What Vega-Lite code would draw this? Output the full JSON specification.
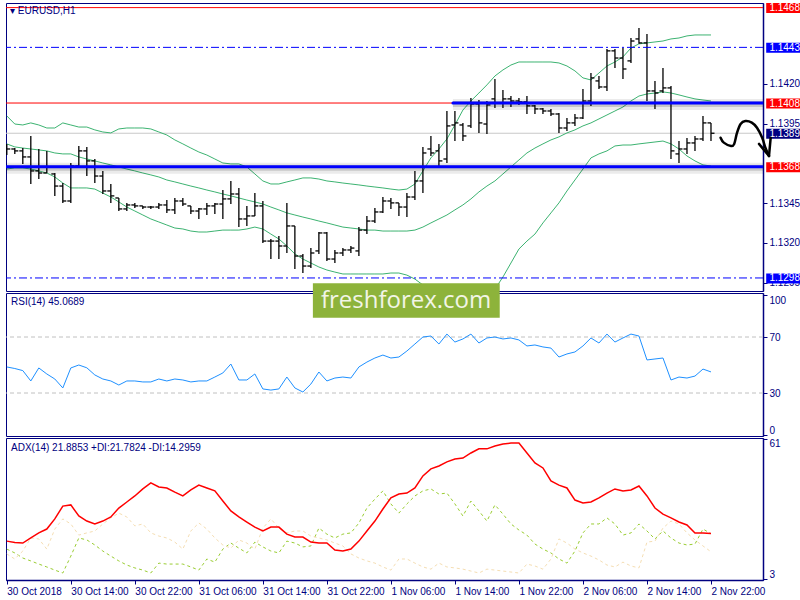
{
  "$schema": "https://vega.github.io/schema/vega-lite/v6.json",
  "background": "white",
  "padding": {"left": 3, "top": 2, "right": 0, "bottom": 0},
  "bounds": "flush",
  "spacing": 2,
  "config": {
    "view": {"stroke": "#000080", "strokeWidth": 1},
    "axis": {"grid": false, "domainColor": "#000080", "domainWidth": 1.5, "tickColor": "#000080", "labelColor": "#000080", "labelFont": "Liberation Sans", "labelFontSize": 10, "tickSize": 4, "labelPadding": 2, "title": null},
    "title": {"anchor": "start", "frame": "group", "orient": "top", "offset": -14, "baseline": "top", "font": "Liberation Sans", "fontSize": 10, "fontWeight": "normal", "color": "#000080"}
  },
  "datasets": {
    "h1": [
      {"i":0,"o":1.1381,"h":1.13823,"l":1.13753,"c":1.13791,"up":1.13999,"mid":1.13823,"lo":1.13665,"rsi":48.6,"adx":18.7,"pdi":15.4,"mdi":13.4},
      {"i":1,"o":1.13791,"h":1.13797,"l":1.1376,"c":1.13779,"up":1.13948,"mid":1.13804,"lo":1.13672,"rsi":47.5,"adx":18.1,"pdi":13.8,"mdi":11.3},
      {"i":2,"o":1.13779,"h":1.13797,"l":1.13697,"c":1.13741,"up":1.13942,"mid":1.13797,"lo":1.13672,"rsi":46,"adx":17.9,"pdi":11.7,"mdi":14.6},
      {"i":3,"o":1.13741,"h":1.13873,"l":1.13571,"c":1.13653,"up":1.13955,"mid":1.13791,"lo":1.13665,"rsi":38.6,"adx":20,"pdi":10.5,"mdi":20},
      {"i":4,"o":1.13653,"h":1.13791,"l":1.13602,"c":1.1364,"up":1.13942,"mid":1.13785,"lo":1.13653,"rsi":47.9,"adx":22.1,"pdi":9.2,"mdi":19.6},
      {"i":5,"o":1.1364,"h":1.13779,"l":1.1364,"c":1.13678,"up":1.13923,"mid":1.13779,"lo":1.1364,"rsi":43.6,"adx":23.7,"pdi":8,"mdi":15.4},
      {"i":6,"o":1.13634,"h":1.1364,"l":1.13496,"c":1.13558,"up":1.13923,"mid":1.13766,"lo":1.13615,"rsi":40,"adx":27.9,"pdi":6.7,"mdi":23.7},
      {"i":7,"o":1.13558,"h":1.13577,"l":1.13452,"c":1.13464,"up":1.13955,"mid":1.1376,"lo":1.13577,"rsi":33.6,"adx":33.2,"pdi":5.5,"mdi":27.9},
      {"i":8,"o":1.13464,"h":1.13703,"l":1.13452,"c":1.13684,"up":1.13942,"mid":1.1376,"lo":1.13546,"rsi":47.9,"adx":33.7,"pdi":12.5,"mdi":25.8},
      {"i":9,"o":1.13684,"h":1.1381,"l":1.13684,"c":1.13779,"up":1.13929,"mid":1.13741,"lo":1.13546,"rsi":50,"adx":29.1,"pdi":20,"mdi":21.2},
      {"i":10,"o":1.13779,"h":1.13804,"l":1.13621,"c":1.13716,"up":1.13929,"mid":1.13728,"lo":1.13546,"rsi":48,"adx":27,"pdi":19.2,"mdi":22.1},
      {"i":11,"o":1.13716,"h":1.13728,"l":1.13577,"c":1.13621,"up":1.13911,"mid":1.13716,"lo":1.13539,"rsi":42.9,"adx":25.8,"pdi":17.1,"mdi":22.9},
      {"i":12,"o":1.13621,"h":1.13653,"l":1.13508,"c":1.13527,"up":1.13898,"mid":1.13703,"lo":1.13514,"rsi":40,"adx":27,"pdi":14.6,"mdi":25.8},
      {"i":13,"o":1.13527,"h":1.13571,"l":1.13452,"c":1.13496,"up":1.13892,"mid":1.13691,"lo":1.13489,"rsi":38.6,"adx":28.7,"pdi":12.5,"mdi":28.3},
      {"i":14,"o":1.13483,"h":1.13483,"l":1.13401,"c":1.13414,"up":1.13917,"mid":1.13678,"lo":1.13458,"rsi":35.7,"adx":32.4,"pdi":10.5,"mdi":30.3},
      {"i":15,"o":1.13414,"h":1.13452,"l":1.13401,"c":1.13439,"up":1.13923,"mid":1.13665,"lo":1.13426,"rsi":38.6,"adx":34.9,"pdi":8.8,"mdi":28.7},
      {"i":16,"o":1.13439,"h":1.13452,"l":1.1342,"c":1.13433,"up":1.13923,"mid":1.13653,"lo":1.13401,"rsi":38.6,"adx":37.4,"pdi":7.6,"mdi":25},
      {"i":17,"o":1.13433,"h":1.13433,"l":1.13414,"c":1.13426,"up":1.13923,"mid":1.1364,"lo":1.13376,"rsi":37.9,"adx":40.3,"pdi":6.7,"mdi":25.8},
      {"i":18,"o":1.13426,"h":1.13433,"l":1.13414,"c":1.13426,"up":1.13917,"mid":1.13628,"lo":1.13351,"rsi":37.9,"adx":42.8,"pdi":5.5,"mdi":22.1},
      {"i":19,"o":1.13426,"h":1.13452,"l":1.13414,"c":1.13439,"up":1.13898,"mid":1.13615,"lo":1.13332,"rsi":40,"adx":41.1,"pdi":9.6,"mdi":20.8},
      {"i":20,"o":1.13439,"h":1.1347,"l":1.13389,"c":1.13408,"up":1.13879,"mid":1.13596,"lo":1.13313,"rsi":38.6,"adx":40.7,"pdi":9.2,"mdi":20},
      {"i":21,"o":1.13408,"h":1.13483,"l":1.13382,"c":1.13464,"up":1.13848,"mid":1.13584,"lo":1.13294,"rsi":40,"adx":39,"pdi":9.2,"mdi":18.3},
      {"i":22,"o":1.13464,"h":1.13483,"l":1.13433,"c":1.13445,"up":1.13823,"mid":1.13571,"lo":1.13288,"rsi":39.3,"adx":37.4,"pdi":9.2,"mdi":15.4},
      {"i":23,"o":1.13433,"h":1.13433,"l":1.13382,"c":1.13401,"up":1.13797,"mid":1.13558,"lo":1.13275,"rsi":37.9,"adx":39.9,"pdi":8,"mdi":22.9},
      {"i":24,"o":1.13401,"h":1.1342,"l":1.13351,"c":1.13414,"up":1.13772,"mid":1.13546,"lo":1.13269,"rsi":38.6,"adx":41.9,"pdi":6.7,"mdi":26.2},
      {"i":25,"o":1.13414,"h":1.13452,"l":1.13376,"c":1.13433,"up":1.13753,"mid":1.13533,"lo":1.13269,"rsi":38.6,"adx":40.7,"pdi":11.3,"mdi":23.7},
      {"i":26,"o":1.13433,"h":1.13452,"l":1.13382,"c":1.13445,"up":1.13728,"mid":1.13521,"lo":1.13275,"rsi":41.4,"adx":39.5,"pdi":10,"mdi":20},
      {"i":27,"o":1.13445,"h":1.13533,"l":1.13351,"c":1.13477,"up":1.13703,"mid":1.13508,"lo":1.13281,"rsi":44.3,"adx":35.3,"pdi":15.4,"mdi":17.1},
      {"i":28,"o":1.13477,"h":1.1359,"l":1.13445,"c":1.13508,"up":1.13697,"mid":1.13496,"lo":1.13281,"rsi":50.7,"adx":31.2,"pdi":17.9,"mdi":15.8},
      {"i":29,"o":1.13508,"h":1.13546,"l":1.133,"c":1.13351,"up":1.13697,"mid":1.13483,"lo":1.13281,"rsi":39.3,"adx":28.7,"pdi":15.8,"mdi":19.2},
      {"i":30,"o":1.13351,"h":1.13433,"l":1.13307,"c":1.1337,"up":1.13678,"mid":1.1347,"lo":1.13288,"rsi":39.3,"adx":26.6,"pdi":13.8,"mdi":17.9},
      {"i":31,"o":1.1337,"h":1.13514,"l":1.1337,"c":1.13433,"up":1.13634,"mid":1.13458,"lo":1.133,"rsi":43.6,"adx":24.5,"pdi":18.3,"mdi":15.4},
      {"i":32,"o":1.13433,"h":1.13464,"l":1.132,"c":1.13212,"up":1.1359,"mid":1.13445,"lo":1.13288,"rsi":32.9,"adx":22.9,"pdi":16.3,"mdi":24.1},
      {"i":33,"o":1.13212,"h":1.13225,"l":1.13099,"c":1.13212,"up":1.13571,"mid":1.13426,"lo":1.13256,"rsi":32.1,"adx":24.5,"pdi":14.6,"mdi":27.9},
      {"i":34,"o":1.13212,"h":1.13244,"l":1.13099,"c":1.13181,"up":1.13571,"mid":1.13408,"lo":1.13225,"rsi":32.9,"adx":24.5,"pdi":13.8,"mdi":24.1},
      {"i":35,"o":1.13181,"h":1.13452,"l":1.13137,"c":1.13307,"up":1.13584,"mid":1.13389,"lo":1.13181,"rsi":41.4,"adx":21.6,"pdi":18.7,"mdi":22.1},
      {"i":36,"o":1.13307,"h":1.13307,"l":1.13036,"c":1.13118,"up":1.13596,"mid":1.13376,"lo":1.13131,"rsi":33.6,"adx":20.4,"pdi":17.9,"mdi":22.9},
      {"i":37,"o":1.13118,"h":1.13131,"l":1.13011,"c":1.13055,"up":1.13609,"mid":1.13363,"lo":1.13099,"rsi":30.7,"adx":20.4,"pdi":16.3,"mdi":22.9},
      {"i":38,"o":1.13055,"h":1.13168,"l":1.13043,"c":1.13137,"up":1.13609,"mid":1.13351,"lo":1.13074,"rsi":36.4,"adx":18.3,"pdi":16.7,"mdi":20.8},
      {"i":39,"o":1.1315,"h":1.13269,"l":1.13131,"c":1.13263,"up":1.13602,"mid":1.13338,"lo":1.13049,"rsi":45,"adx":17.9,"pdi":24.1,"mdi":20},
      {"i":40,"o":1.13263,"h":1.13269,"l":1.13087,"c":1.13099,"up":1.1359,"mid":1.13326,"lo":1.1303,"rsi":38.6,"adx":17.9,"pdi":21.6,"mdi":19.2},
      {"i":41,"o":1.13099,"h":1.13156,"l":1.13074,"c":1.13137,"up":1.13584,"mid":1.13313,"lo":1.13017,"rsi":40.7,"adx":15,"pdi":20,"mdi":17.9},
      {"i":42,"o":1.13137,"h":1.13168,"l":1.13118,"c":1.13156,"up":1.13577,"mid":1.133,"lo":1.13005,"rsi":41.4,"adx":14.6,"pdi":21.6,"mdi":16.7},
      {"i":43,"o":1.13156,"h":1.13181,"l":1.13137,"c":1.13168,"up":1.13571,"mid":1.13294,"lo":1.13005,"rsi":40.7,"adx":15.4,"pdi":22.1,"mdi":13.4},
      {"i":44,"o":1.1315,"h":1.133,"l":1.13118,"c":1.13281,"up":1.13565,"mid":1.13288,"lo":1.13005,"rsi":48.6,"adx":18.7,"pdi":26.2,"mdi":11.7},
      {"i":45,"o":1.13281,"h":1.1337,"l":1.13256,"c":1.13338,"up":1.13558,"mid":1.13281,"lo":1.13005,"rsi":52.1,"adx":22.9,"pdi":32.4,"mdi":10.5},
      {"i":46,"o":1.13338,"h":1.1342,"l":1.13326,"c":1.13395,"up":1.13552,"mid":1.13281,"lo":1.13005,"rsi":55,"adx":27,"pdi":36.1,"mdi":9.6},
      {"i":47,"o":1.13395,"h":1.13489,"l":1.13389,"c":1.13464,"up":1.13546,"mid":1.13275,"lo":1.13005,"rsi":57.1,"adx":32,"pdi":39.5,"mdi":8},
      {"i":48,"o":1.13464,"h":1.13483,"l":1.13414,"c":1.13452,"up":1.13539,"mid":1.13275,"lo":1.13011,"rsi":55,"adx":36.6,"pdi":34.1,"mdi":6.7},
      {"i":49,"o":1.13452,"h":1.13452,"l":1.1337,"c":1.13426,"up":1.13533,"mid":1.13275,"lo":1.13011,"rsi":55.7,"adx":38.2,"pdi":30.3,"mdi":11.3},
      {"i":50,"o":1.13426,"h":1.13514,"l":1.13363,"c":1.13489,"up":1.13539,"mid":1.13275,"lo":1.12998,"rsi":60,"adx":38.6,"pdi":34.1,"mdi":11.3},
      {"i":51,"o":1.13489,"h":1.13653,"l":1.1347,"c":1.1359,"up":1.13571,"mid":1.13281,"lo":1.12973,"rsi":65,"adx":40.7,"pdi":37.4,"mdi":9.6},
      {"i":52,"o":1.1359,"h":1.13804,"l":1.13514,"c":1.13766,"up":1.13653,"mid":1.133,"lo":1.12936,"rsi":70,"adx":45.7,"pdi":39.5,"mdi":8},
      {"i":53,"o":1.13791,"h":1.13873,"l":1.13747,"c":1.13766,"up":1.13735,"mid":1.13326,"lo":1.12885,"rsi":70.7,"adx":48.6,"pdi":40.3,"mdi":7.1},
      {"i":54,"o":1.13779,"h":1.13823,"l":1.13684,"c":1.13716,"up":1.13791,"mid":1.13351,"lo":1.12835,"rsi":65,"adx":49.8,"pdi":38.2,"mdi":9.6},
      {"i":55,"o":1.13728,"h":1.1403,"l":1.13703,"c":1.13936,"up":1.13854,"mid":1.13376,"lo":1.12797,"rsi":72.1,"adx":51.5,"pdi":38.6,"mdi":8},
      {"i":56,"o":1.13942,"h":1.1403,"l":1.13841,"c":1.13955,"up":1.13942,"mid":1.13408,"lo":1.12772,"rsi":66.4,"adx":52.7,"pdi":34.1,"mdi":7.6},
      {"i":57,"o":1.13942,"h":1.13955,"l":1.13841,"c":1.13873,"up":1.14036,"mid":1.13439,"lo":1.1276,"rsi":68.6,"adx":53.1,"pdi":29.1,"mdi":7.1},
      {"i":58,"o":1.13936,"h":1.14112,"l":1.13923,"c":1.14074,"up":1.14093,"mid":1.13477,"lo":1.1276,"rsi":72.1,"adx":55.2,"pdi":35.3,"mdi":6.3},
      {"i":59,"o":1.14074,"h":1.14099,"l":1.13892,"c":1.13955,"up":1.14143,"mid":1.13521,"lo":1.12785,"rsi":65.7,"adx":56.9,"pdi":31.2,"mdi":5.5},
      {"i":60,"o":1.13948,"h":1.14093,"l":1.13885,"c":1.14068,"up":1.14194,"mid":1.13558,"lo":1.12835,"rsi":69.3,"adx":56.9,"pdi":27,"mdi":7.1},
      {"i":61,"o":1.14106,"h":1.14231,"l":1.14049,"c":1.1408,"up":1.1425,"mid":1.1359,"lo":1.1291,"rsi":70,"adx":58.1,"pdi":33.7,"mdi":6.7},
      {"i":62,"o":1.1408,"h":1.14162,"l":1.14049,"c":1.14106,"up":1.14288,"mid":1.13634,"lo":1.12986,"rsi":68.6,"adx":58.9,"pdi":29.9,"mdi":6.3},
      {"i":63,"o":1.14106,"h":1.14124,"l":1.14055,"c":1.14093,"up":1.14319,"mid":1.13678,"lo":1.13074,"rsi":69.3,"adx":59.3,"pdi":25.8,"mdi":5.9},
      {"i":64,"o":1.14093,"h":1.14112,"l":1.14068,"c":1.14087,"up":1.14338,"mid":1.13722,"lo":1.13162,"rsi":67.9,"adx":59.3,"pdi":23.3,"mdi":5.5},
      {"i":65,"o":1.14087,"h":1.14124,"l":1.14011,"c":1.14062,"up":1.14338,"mid":1.13766,"lo":1.13212,"rsi":63.6,"adx":55.2,"pdi":21.2,"mdi":9.2},
      {"i":66,"o":1.14062,"h":1.14068,"l":1.14011,"c":1.14043,"up":1.14338,"mid":1.13797,"lo":1.13256,"rsi":64.3,"adx":51.1,"pdi":17.5,"mdi":8.4},
      {"i":67,"o":1.14043,"h":1.14049,"l":1.14011,"c":1.1403,"up":1.14338,"mid":1.13823,"lo":1.13326,"rsi":62.9,"adx":49,"pdi":15.4,"mdi":7.1},
      {"i":68,"o":1.1403,"h":1.14043,"l":1.13999,"c":1.14011,"up":1.14338,"mid":1.13848,"lo":1.13389,"rsi":62.1,"adx":43.6,"pdi":13.8,"mdi":11.3},
      {"i":69,"o":1.14011,"h":1.14018,"l":1.13892,"c":1.13923,"up":1.14332,"mid":1.13867,"lo":1.13452,"rsi":55.7,"adx":41.9,"pdi":11.3,"mdi":19.6},
      {"i":70,"o":1.13923,"h":1.13986,"l":1.13904,"c":1.13955,"up":1.14313,"mid":1.13892,"lo":1.13527,"rsi":57.9,"adx":40.7,"pdi":9.6,"mdi":17.9},
      {"i":71,"o":1.13955,"h":1.14011,"l":1.13936,"c":1.13986,"up":1.14282,"mid":1.13911,"lo":1.13596,"rsi":59.3,"adx":35.7,"pdi":14.6,"mdi":15.4},
      {"i":72,"o":1.13986,"h":1.14169,"l":1.1398,"c":1.14093,"up":1.14238,"mid":1.13936,"lo":1.13665,"rsi":63.6,"adx":34.5,"pdi":22.1,"mdi":13.8},
      {"i":73,"o":1.14093,"h":1.14269,"l":1.14062,"c":1.14238,"up":1.14225,"mid":1.13955,"lo":1.13735,"rsi":69.3,"adx":34.9,"pdi":25.8,"mdi":12.5},
      {"i":74,"o":1.14219,"h":1.1425,"l":1.14169,"c":1.14181,"up":1.14269,"mid":1.1398,"lo":1.1376,"rsi":65.7,"adx":36.6,"pdi":25.8,"mdi":10.9},
      {"i":75,"o":1.14181,"h":1.1442,"l":1.14156,"c":1.14408,"up":1.14313,"mid":1.14005,"lo":1.13779,"rsi":72.1,"adx":38.6,"pdi":28.3,"mdi":8.8},
      {"i":76,"o":1.14408,"h":1.1442,"l":1.14301,"c":1.14363,"up":1.14338,"mid":1.1403,"lo":1.1381,"rsi":66.4,"adx":40.3,"pdi":25.8,"mdi":8},
      {"i":77,"o":1.14363,"h":1.14426,"l":1.14231,"c":1.14294,"up":1.1437,"mid":1.14055,"lo":1.13816,"rsi":69.3,"adx":39.5,"pdi":21.2,"mdi":10},
      {"i":78,"o":1.14345,"h":1.14489,"l":1.14332,"c":1.1447,"up":1.14426,"mid":1.14093,"lo":1.13816,"rsi":72.1,"adx":39.9,"pdi":22.1,"mdi":8.4},
      {"i":79,"o":1.14483,"h":1.14552,"l":1.14452,"c":1.14458,"up":1.14452,"mid":1.14124,"lo":1.13823,"rsi":70.7,"adx":41.5,"pdi":25.8,"mdi":7.6},
      {"i":80,"o":1.14458,"h":1.14514,"l":1.14093,"c":1.14156,"up":1.14458,"mid":1.14137,"lo":1.13829,"rsi":53.6,"adx":37.4,"pdi":22.9,"mdi":18.3},
      {"i":81,"o":1.14156,"h":1.14219,"l":1.14043,"c":1.14143,"up":1.14464,"mid":1.14143,"lo":1.13835,"rsi":54.3,"adx":32.4,"pdi":19.6,"mdi":18.7},
      {"i":82,"o":1.14156,"h":1.14301,"l":1.14143,"c":1.14175,"up":1.1447,"mid":1.1415,"lo":1.13841,"rsi":55,"adx":29.9,"pdi":22.9,"mdi":24.1},
      {"i":83,"o":1.14175,"h":1.14187,"l":1.13728,"c":1.13779,"up":1.14483,"mid":1.14143,"lo":1.13823,"rsi":39.3,"adx":28.3,"pdi":20,"mdi":27},
      {"i":84,"o":1.1376,"h":1.13841,"l":1.13703,"c":1.13791,"up":1.14489,"mid":1.14131,"lo":1.13791,"rsi":41.4,"adx":26.6,"pdi":17.9,"mdi":25.8},
      {"i":85,"o":1.13791,"h":1.1386,"l":1.1376,"c":1.13829,"up":1.14502,"mid":1.14118,"lo":1.13747,"rsi":40.7,"adx":25.4,"pdi":17.1,"mdi":22.1},
      {"i":86,"o":1.13829,"h":1.13873,"l":1.13779,"c":1.13854,"up":1.14508,"mid":1.14106,"lo":1.13716,"rsi":42.1,"adx":22.1,"pdi":17.5,"mdi":19.2},
      {"i":87,"o":1.13854,"h":1.13999,"l":1.13841,"c":1.13955,"up":1.14508,"mid":1.14099,"lo":1.13691,"rsi":47.1,"adx":22.1,"pdi":23.7,"mdi":16.7},
      {"i":88,"o":1.13955,"h":1.13955,"l":1.13841,"c":1.1389,"up":1.14508,"mid":1.14093,"lo":1.13684,"rsi":45.0689,"adx":21.8853,"pdi":21.7824,"mdi":14.2959}
    ],
    "levels": [
      {"price":1.1468,"type":"hline"},
      {"price":1.1443,"type":"channel"},
      {"price":1.1408,"type":"hline"},
      {"price":1.1389,"type":"bid"},
      {"price":1.1368,"type":"hline"},
      {"price":1.1298,"type":"channel"}
    ],
    "trendlines": [
      {"price":1.1408,"start":55.75},
      {"price":1.1368,"start":-0.1}
    ],
    "arrow": [
      {"part":"shaft","seq":1,"i":89.2,"price":1.13862},
      {"part":"shaft","seq":2,"i":89.6,"price":1.13831},
      {"part":"shaft","seq":3,"i":90.5,"price":1.1381},
      {"part":"shaft","seq":4,"i":90.9,"price":1.13823},
      {"part":"shaft","seq":5,"i":91.25,"price":1.13892},
      {"part":"shaft","seq":6,"i":91.7,"price":1.13948},
      {"part":"shaft","seq":7,"i":92.3,"price":1.13967},
      {"part":"shaft","seq":8,"i":93.1,"price":1.13957},
      {"part":"shaft","seq":9,"i":93.75,"price":1.13925},
      {"part":"shaft","seq":10,"i":94.4,"price":1.13862},
      {"part":"shaft","seq":11,"i":94.8,"price":1.13799},
      {"part":"shaft","seq":12,"i":95.25,"price":1.13747},
      {"part":"barbL","seq":1,"i":94.0,"price":1.13823},
      {"part":"barbL","seq":2,"i":95.25,"price":1.13747},
      {"part":"barbR","seq":1,"i":95.46,"price":1.13862},
      {"part":"barbR","seq":2,"i":95.25,"price":1.13747}
    ]
  },
  "vconcat": [
    {
      "width": 757,
      "height": 288,
      "title": {"text": "▾ EURUSD,H1", "dx": 4, "offset": -13},
      "layer": [
        {
          "data": {"name": "levels"},
          "transform": [{"filter": "datum.type === 'bid'"}],
          "mark": {"type": "rule", "color": "#c8c8c8", "strokeWidth": 1},
          "encoding": {
            "y": {"field": "price", "type": "quantitative", "scale": {"domain": [1.12898, 1.14709], "zero": false, "nice": false},
              "axis": {"orient": "right", "values": [1.1295, 1.132, 1.1345, 1.1395, 1.142], "format": ".4f"}}
          }
        },
        {
          "data": {"name": "h1"},
          "mark": {"type": "line", "color": "#3cb371", "strokeWidth": 1, "clip": true},
          "encoding": {
            "x": {"field": "i", "type": "quantitative", "scale": {"domain": [-0.1, 94.5], "zero": false, "nice": false}, "axis": null},
            "y": {"field": "up", "type": "quantitative"}
          }
        },
        {
          "data": {"name": "h1"},
          "mark": {"type": "line", "color": "#3cb371", "strokeWidth": 1, "clip": true},
          "encoding": {"x": {"field": "i", "type": "quantitative"}, "y": {"field": "mid", "type": "quantitative"}}
        },
        {
          "data": {"name": "h1"},
          "mark": {"type": "line", "color": "#3cb371", "strokeWidth": 1, "clip": true},
          "encoding": {"x": {"field": "i", "type": "quantitative"}, "y": {"field": "lo", "type": "quantitative"}}
        },
        {
          "data": {"name": "h1"},
          "mark": {"type": "rule", "color": "#000000", "strokeWidth": 1.3, "clip": true},
          "encoding": {"x": {"field": "i", "type": "quantitative"}, "y": {"field": "l", "type": "quantitative"}, "y2": {"field": "h"}}
        },
        {
          "data": {"name": "h1"},
          "mark": {"type": "rule", "color": "#000000", "strokeWidth": 1.3, "x2Offset": -3.5, "clip": true},
          "encoding": {"x": {"field": "i", "type": "quantitative"}, "x2": {"field": "i"}, "y": {"field": "o", "type": "quantitative"}}
        },
        {
          "data": {"name": "h1"},
          "mark": {"type": "rule", "color": "#000000", "strokeWidth": 1.3, "x2Offset": 3.5, "clip": true},
          "encoding": {"x": {"field": "i", "type": "quantitative"}, "x2": {"field": "i"}, "y": {"field": "c", "type": "quantitative"}}
        },
        {
          "data": {"name": "levels"},
          "transform": [{"filter": "datum.type === 'hline'"}],
          "mark": {"type": "rule", "color": "#ff0000", "strokeWidth": 1},
          "encoding": {"y": {"field": "price", "type": "quantitative"}}
        },
        {
          "data": {"name": "levels"},
          "transform": [{"filter": "datum.type === 'channel'"}],
          "mark": {"type": "rule", "color": "#0000ff", "strokeWidth": 1, "strokeDash": [8, 3, 2, 3]},
          "encoding": {"y": {"field": "price", "type": "quantitative"}}
        },
        {
          "data": {"name": "trendlines"},
          "mark": {"type": "rule", "color": "#000000", "opacity": 0.08, "strokeWidth": 11, "yOffset": 1.5, "clip": true},
          "encoding": {"x": {"field": "start", "type": "quantitative"}, "x2": {"datum": 94.5}, "y": {"field": "price", "type": "quantitative"}}
        },
        {
          "data": {"name": "trendlines"},
          "mark": {"type": "rule", "color": "#000000", "opacity": 0.15, "strokeWidth": 6, "yOffset": 1, "clip": true},
          "encoding": {"x": {"field": "start", "type": "quantitative"}, "x2": {"datum": 94.5}, "y": {"field": "price", "type": "quantitative"}}
        },
        {
          "data": {"name": "trendlines"},
          "mark": {"type": "rule", "color": "#0000ff", "strokeWidth": 3, "strokeCap": "round", "clip": true},
          "encoding": {"x": {"field": "start", "type": "quantitative"}, "x2": {"datum": 94.5}, "y": {"field": "price", "type": "quantitative"}}
        },
        {
          "data": {"name": "levels"},
          "mark": {"type": "rect", "yOffset": -4.5, "y2Offset": 5.5},
          "encoding": {
            "x": {"datum": 94.9}, "x2": {"datum": 99.6},
            "y": {"field": "price", "type": "quantitative"}, "y2": {"field": "price"},
            "color": {"field": "type", "type": "nominal", "scale": {"domain": ["hline", "channel", "bid"], "range": ["#ff0000", "#0000ff", "#000080"]}, "legend": null}
          }
        },
        {
          "data": {"name": "levels"},
          "mark": {"type": "text", "align": "left", "baseline": "middle", "color": "#ffffff", "font": "Liberation Sans", "fontSize": 10, "dy": 0.5},
          "encoding": {
            "x": {"datum": 95.3},
            "y": {"field": "price", "type": "quantitative"},
            "text": {"field": "price", "type": "quantitative", "format": ".4f"}
          }
        },
        {
          "data": {"name": "arrow"},
          "mark": {"type": "line", "color": "#000000", "strokeWidth": 2.5, "interpolate": "cardinal", "strokeCap": "round", "strokeJoin": "round"},
          "encoding": {
            "x": {"field": "i", "type": "quantitative"},
            "y": {"field": "price", "type": "quantitative"},
            "detail": {"field": "part"},
            "order": {"field": "seq"}
          }
        }
      ]
    },
    {
      "width": 757,
      "height": 143,
      "title": {"text": "RSI(14) 45.0689", "dx": 5, "offset": -24},
      "layer": [
        {
          "data": {"values": [{"lvl": 30}, {"lvl": 70}]},
          "mark": {"type": "rule", "color": "#c0c0c0", "strokeWidth": 1, "strokeDash": [4, 3]},
          "encoding": {
            "y": {"field": "lvl", "type": "quantitative", "scale": {"domain": [-0.71, 101.43], "zero": false, "nice": false},
              "axis": {"orient": "right", "values": [0, 30, 70, 100], "labelFlush": 6}}
          }
        },
        {
          "data": {"name": "h1"},
          "mark": {"type": "line", "color": "#1e90ff", "strokeWidth": 1},
          "encoding": {
            "x": {"field": "i", "type": "quantitative", "scale": {"domain": [-0.1, 94.5], "zero": false, "nice": false}, "axis": null},
            "y": {"field": "rsi", "type": "quantitative"}
          }
        },
        {
          "data": {"values": [{"brand": "freshforex.com"}]},
          "mark": {"type": "rect", "color": "#8db33b"},
          "encoding": {"x": {"datum": 38.25}, "x2": {"datum": 61.6}, "y": {"datum": 108.4}, "y2": {"datum": 83.8}}
        },
        {
          "data": {"values": [{"brand": "freshforex.com"}]},
          "mark": {"type": "text", "color": "#f2f5e6", "font": "Open Sans", "fontSize": 24, "align": "center", "baseline": "middle"},
          "encoding": {"x": {"datum": 49.9}, "y": {"datum": 95.7}, "text": {"field": "brand"}}
        }
      ]
    },
    {
      "width": 757,
      "height": 142,
      "title": {"text": "ADX(14) 21.8853 +DI:21.7824 -DI:14.2959", "dx": 5, "offset": -15},
      "layer": [
        {
          "data": {"name": "h1"},
          "mark": {"type": "line", "color": "#9acd32", "strokeWidth": 1, "strokeDash": [3, 3]},
          "encoding": {
            "x": {"field": "i", "type": "quantitative", "scale": {"domain": [-0.1, 94.5], "zero": false, "nice": false},
              "axis": {"orient": "bottom", "values": [0, 8, 16, 24, 32, 40, 48, 56, 64, 72, 80, 88], "labelAlign": "left", "labelOverlap": false, "labelBaseline": "top",
                "labelExpr": "['30 Oct 2018','30 Oct 14:00','30 Oct 22:00','31 Oct 06:00','31 Oct 14:00','31 Oct 22:00','1 Nov 06:00','1 Nov 14:00','1 Nov 22:00','2 Nov 06:00','2 Nov 14:00','2 Nov 22:00'][round(datum.value / 8)]"}},
            "y": {"field": "pdi", "type": "quantitative", "scale": {"domain": [2.6, 61.4], "zero": false, "nice": false},
              "axis": {"orient": "right", "values": [3, 61], "labelFlush": 4}}
          }
        },
        {
          "data": {"name": "h1"},
          "mark": {"type": "line", "color": "#f5deb3", "strokeWidth": 1, "strokeDash": [3, 3]},
          "encoding": {"x": {"field": "i", "type": "quantitative"}, "y": {"field": "mdi", "type": "quantitative"}}
        },
        {
          "data": {"name": "h1"},
          "mark": {"type": "line", "color": "#ff0000", "strokeWidth": 1.5},
          "encoding": {"x": {"field": "i", "type": "quantitative"}, "y": {"field": "adx", "type": "quantitative"}}
        }
      ]
    }
  ]
}
